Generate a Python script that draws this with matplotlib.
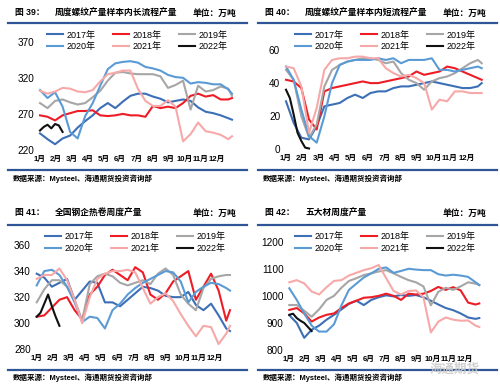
import matplotlib
matplotlib.use("Agg")
import matplotlib.pyplot as plt
from matplotlib.lines import Line2D

plt.rcParams['font.family'] = ['Liberation Sans', 'Noto Sans CJK SC', 'DejaVu Sans']

W, H = 500, 390

# Weekly sample points (every second week)
WEEKS = [1, 3, 5, 7, 9, 11, 13, 15, 17, 19, 21, 23, 25, 27, 29,
         31, 33, 35, 37, 39, 41, 43, 45, 47, 49, 51, 52]
WEEKS_2022 = [1, 2, 3, 4, 5, 6, 7]

YEARS = ['2017年', '2018年', '2019年', '2020年', '2021年', '2022年']
COLORS = ['#3D6FB6', '#EE1C25', '#A6A6A6', '#5B9BD5', '#F7A8A8', '#111111']

MONTHS = ['1月', '2月', '3月', '4月', '5月', '6月', '7月', '8月',
          '9月', '10月', '11月', '12月']
MONTH_WEEKS = [0.9, 5.2, 9.5, 13.7, 18.0, 22.3, 26.6, 30.9, 35.1, 39.4, 43.7, 48.0]

# 图39 长流程产量
long_2017 = [243, 235, 228, 236, 240, 251, 260, 268, 278, 285, 278, 287, 295, 298, 298,
             294, 291, 286, 288, 290, 288, 279, 273, 271, 268, 264, 262]
long_2018 = [268, 266, 261, 268, 271, 274, 274, 275, 268, 267, 268, 270, 268, 268, 266,
             281, 278, 280, 278, 285, 295, 298, 294, 296, 290, 290, 292]
long_2019 = [285, 278, 288, 290, 286, 283, 285, 293, 302, 316, 327, 328, 326, 325, 325,
             325, 322, 306, 310, 316, 276, 309, 301, 303, 308, 305, 295]
long_2020 = [303, 292, 300, 280, 245, 236, 267, 285, 309, 332, 340, 342, 343, 341, 335,
             333, 330, 324, 321, 320, 312, 314, 313, 311, 311, 304, 298]
long_2021 = [302, 298, 301, 306, 305, 301, 300, 303, 315, 325, 327, 330, 330, 305, 288,
             281, 281, 289, 280, 232, 242, 258, 246, 244, 241, 235, 239]
long_2022 = [247, 252, 255, 250, 256, 254, 245]

# 图40 短流程产量
short_2017 = [29, 16, 7, 6, 14, 26, 27, 28, 31, 33, 31, 34, 35, 35, 37,
              38, 38, 39, 40, 41, 40, 39, 38, 37, 37, 38, 40]
short_2018 = [42, 41, 37, 18, 12, 35, 37, 38, 39, 40, 41, 40, 40, 41, 42,
              43, 44, 47, 45, 46, 47, 50, 49, 47, 45, 43, 42]
short_2019 = [48, 42, 20, 7, 15, 38, 48, 51, 53, 54, 55, 55, 54, 52, 53,
              46, 42, 40, 36, 41, 43, 44, 46, 49, 52, 54, 52]
short_2020 = [50, 42, 24, 8, 4, 20, 40, 51, 53, 54, 54, 54, 55, 54, 55,
              52, 54, 54, 54, 55, 48, 48, 47, 48, 49, 50, 49]
short_2021 = [50, 49, 38, 10, 25, 48, 54, 55, 55, 56, 56, 55, 55, 49, 46,
              44, 45, 43, 40, 24, 30, 29, 35, 35, 34, 34, 34]
short_2022 = [36, 31, 21, 10, 5, 1, 0.5]

# 图41 热卷周度产量
coil_2017 = [338, 335, 328, 331, 334, 318, 325, 332, 331, 316, 316, 313, 318, 323, 328,
             327, 325, 321, 320, 320, 324, 314, 310, 315, 306, 296, 294]
coil_2018 = [305, 306, 312, 318, 320, 310, 303, 322, 328, 337, 341, 337, 333, 343, 339,
             322, 318, 323, 332, 336, 340, 318, 328, 338, 325, 302, 310]
coil_2019 = [316, 326, 333, 333, 328, 318, 302, 330, 336, 338, 336, 331, 329, 331, 333,
             330, 338, 342, 337, 322, 315, 310, 327, 334, 336, 337, 337]
coil_2020 = [329, 340, 341, 337, 328, 316, 301, 305, 304, 296, 310, 315, 322, 327, 331,
             334, 337, 340, 339, 332, 316, 324, 328, 331, 330, 327, 325]
coil_2021 = [334, 337, 337, 342, 333, 318, 300, 320, 334, 338, 340, 340, 341, 339, 327,
             315, 320, 323, 317, 307, 298, 290, 298, 297, 284, 292, 298]
coil_2022 = [305, 308, 315, 322, 313, 305, 298]

# 图42 五大材周度产量
five_2017 = [928, 900, 845, 875, 890, 912, 930, 950, 970, 982, 966, 985, 995, 1002, 998,
             1003, 1000, 1003, 995, 982, 968, 955, 947, 935, 920, 915, 918]
five_2018 = [948, 955, 935, 905, 920, 930, 935, 955, 972, 982, 993, 995, 1000, 1008, 1000,
             985, 1008, 1005, 1008, 1018, 1033, 1022, 1032, 1020, 975, 968, 972]
five_2019 = [966, 966, 945, 923, 950, 985, 1000, 1030, 1055, 1065, 1077, 1083, 1090, 1095, 1083,
             1070, 1058, 1050, 1035, 965, 1015, 1030, 1022, 1035, 1050, 1045, 1040]
five_2020 = [1028, 985, 935, 890, 868, 868, 895, 965, 1022, 1045, 1068, 1083, 1100, 1105, 1085,
             1092, 1100, 1097, 1095, 1095, 1080, 1075, 1078, 1075, 1070, 1050, 1040]
five_2021 = [1050, 1058, 1046, 1016, 1005, 1032, 1055, 1058, 1075, 1085, 1095, 1102, 1114, 1065, 1018,
             1005, 1018, 1020, 995, 865, 905, 920, 912, 908, 909, 890, 885]
five_2022 = [930, 934, 918, 908, 900, 885, 870]

panels = [
    dict(num='图 39：', title='周度螺纹产量样本内长流程产量', x0=0, y0=0,
         series=[long_2017, long_2018, long_2019, long_2020, long_2021, long_2022],
         ylim=(220, 370), yticks=[220, 270, 320, 370],
         p1=40, p52=232, top=41.7, bottom=150, leg=(47, 41)),
    dict(num='图 40：', title='周度螺纹产量样本内短流程产量', x0=250, y0=0,
         series=[short_2017, short_2018, short_2019, short_2020, short_2021, short_2022],
         ylim=(0, 60), yticks=[0, 20, 40, 60],
         p1=286, p52=481.7, top=50, bottom=149.3, leg=(295, 41)),
    dict(num='图 41：', title='全国钢企热卷周度产量', x0=0, y0=195,
         series=[coil_2017, coil_2018, coil_2019, coil_2020, coil_2021, coil_2022],
         ylim=(280, 360), yticks=[280, 300, 320, 340, 360],
         p1=36.7, p52=230, top=245, bottom=349.3, leg=(45, 242.4)),
    dict(num='图 42：', title='五大材周度产量', x0=250, y0=195,
         series=[five_2017, five_2018, five_2019, five_2020, five_2021, five_2022],
         ylim=(800, 1200), yticks=[800, 900, 1000, 1100, 1200],
         p1=289.3, p52=479.3, top=241.7, bottom=350, leg=(295, 242.4)),
]

fig = plt.figure(figsize=(5, 3.9), dpi=100)


def fx(px):
    return px / W


def fy(py):
    return 1 - py / H


for p in panels:
    scale = (p['p52'] - p['p1']) / 51
    left, right = p['p1'] - 3, p['p52'] + 3
    ax = fig.add_axes([fx(left), fy(p['bottom']), (right - left) / W, (p['bottom'] - p['top']) / H])
    ax.set_xlim(1 - 3 / scale, 52 + 3 / scale)
    ax.set_ylim(*p['ylim'])

    lines = []
    for i, vals in enumerate(p['series']):
        xs = WEEKS_2022 if i == 5 else WEEKS
        ln, = ax.plot(xs, vals, color=COLORS[i], lw=1.5, label=YEARS[i], clip_on=False)
        lines.append(ln)

    for s in ax.spines.values():
        s.set_visible(False)
    ax.set_yticks(p['yticks'])
    ax.set_xticks(MONTH_WEEKS)
    ax.set_xticklabels(MONTHS, fontweight='bold', fontsize=5.6)
    ax.tick_params(axis='y', length=0, pad=2, labelsize=7.2)
    ax.tick_params(axis='x', length=0, pad=4)

    order = [0, 3, 1, 4, 2, 5]
    ax.legend([lines[i] for i in order], [YEARS[i] for i in order], ncol=3,
              loc='center left', bbox_to_anchor=(fx(p['leg'][0]), fy(p['leg'][1])),
              bbox_transform=fig.transFigure, frameon=False, fontsize=6.5,
              handlelength=1.8, handletextpad=0.4, columnspacing=1.9,
              labelspacing=0.3, borderpad=0, borderaxespad=0)

    # header, rules and source note
    x0, y0 = p['x0'], p['y0']
    ty = y0 + (13 if y0 == 0 else 18)
    ly = y0 + (22.5 if y0 == 0 else 30)
    by = y0 + (170 if y0 == 0 else 175)
    sy = y0 + (179 if y0 == 0 else 183)
    fig.text(fx(x0 + 15), fy(ty), p['num'], fontsize=6.3, fontweight='bold', va='center')
    fig.text(fx(x0 + 55), fy(ty), p['title'], fontsize=6.3, fontweight='bold', va='center')
    fig.text(fx(x0 + 236), fy(ty), '单位：万吨', fontsize=6.3, fontweight='bold', va='center', ha='right')
    for yy in (ly, by):
        fig.add_artist(Line2D([fx(x0 + 8), fx(x0 + 247)], [fy(yy), fy(yy)],
                              transform=fig.transFigure, color='#2F5597', lw=1.6))
    fig.text(fx(x0 + 13), fy(sy), '数据来源：Mysteel、海通期货投资咨询部',
             fontsize=5.4, fontweight='bold', va='center')

fig.text(fx(455), fy(370), '海通期货', color='#c8c8c8', fontsize=9, fontweight='bold',
         ha='center', va='center', alpha=0.85)

fig.savefig('out.png', dpi=100)
